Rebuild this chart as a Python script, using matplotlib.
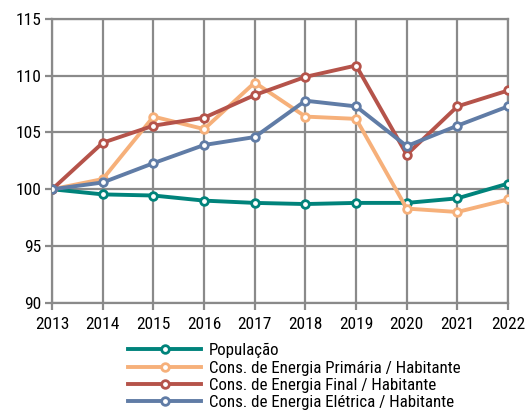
import numpy as np
import matplotlib
matplotlib.use('Agg')
import matplotlib.pyplot as plt

# condensed sans, close to the Arial Narrow of the original
plt.rcParams['font.family'] = ['Roboto Condensed', 'Liberation Sans', 'DejaVu Sans']

anos = [2013, 2014, 2015, 2016, 2017, 2018, 2019, 2020, 2021, 2022]
populacao = [100, 99.55, 99.45, 99.0, 98.8, 98.7, 98.8, 98.8, 99.2, 100.5]
primaria = [100, 100.9, 106.4, 105.3, 109.4, 106.4, 106.2, 98.3, 98.0, 99.1]
final = [100, 104.1, 105.6, 106.3, 108.3, 109.9, 110.9, 103.05, 107.3, 108.7]
eletrica = [100, 100.6, 102.3, 103.9, 104.6, 107.8, 107.3, 103.8, 105.6, 107.3]

series = [
    ("População", populacao, "#00837b"),
    ("Cons. de Energia Primária / Habitante", primaria, "#f6b07a"),
    ("Cons. de Energia Final / Habitante", final, "#b5534a"),
    ("Cons. de Energia Elétrica / Habitante", eletrica, "#607ca6"),
]

fig = plt.figure(figsize=(5.32, 4.12), dpi=100)
ax = fig.add_axes([0.098, 0.265, 0.857, 0.689])

for nome, vals, cor in series:
    ax.plot(anos, vals, color=cor, lw=2.8, marker='o', ms=5.5,
            mfc='white', mec=cor, mew=2.0, label=nome, zorder=3)

grid_c = '#8a8a8a'
ax.set_xlim(2013, 2022)
ax.set_ylim(90, 115)
ax.set_xticks(anos)
ax.set_yticks(np.arange(90, 116, 5))
ax.grid(True, color=grid_c, lw=1.6)
for s in ax.spines.values():
    s.set_color(grid_c)
    s.set_linewidth(1.6)
ax.tick_params(direction='out', length=5, width=1.6, color=grid_c,
               labelsize=12.5, pad=3)
ax.tick_params(axis='x', pad=5)

ax.legend(loc='upper left', bbox_to_anchor=(0.167, -0.142), frameon=False,
          fontsize=12.2, handlelength=4.3, labelspacing=0.14,
          handletextpad=0.45, borderpad=0, borderaxespad=0)

fig.savefig('out.png', dpi=100)
